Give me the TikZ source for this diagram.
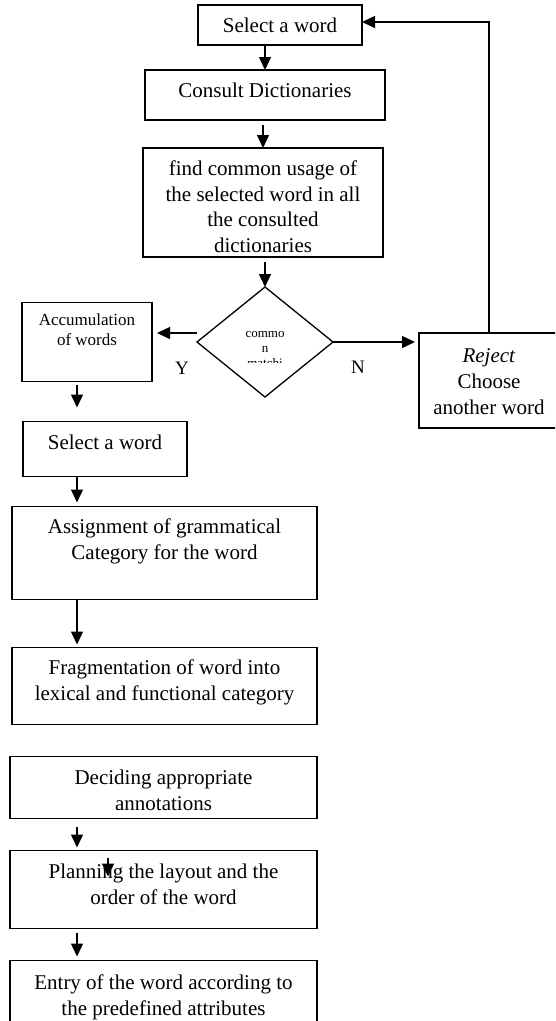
\documentclass[tikz,border=0pt]{standalone}
\usepackage{fontspec}
\setmainfont{Liberation Serif}
\usepackage{tikz}
\usetikzlibrary{shapes.geometric,arrows.meta,positioning,calc}

% text set from the top of a box of fixed size
\newcommand{\boxtext}[4][9.2pt]{\parbox[c][#3][t]{#2}{\centering\vspace*{#1}\strut #4}}

\begin{document}
\begin{tikzpicture}[
    x=1pt, y=-1pt,
    box/.style={rectangle, draw, line width=1.3pt, inner sep=0pt, outer sep=0pt, font=\fontsize{21}{25.8}\selectfont},
    smallbox/.style={box, font=\fontsize{17}{19.5}\selectfont},
    decision/.style={diamond, draw, line width=1.3pt, minimum width=136pt, minimum height=110pt, inner sep=0pt, outer sep=0pt},
    tiny/.style={align=center, inner sep=0pt, font=\fontsize{13}{15}\selectfont},
    lbl/.style={inner sep=0pt, font=\fontsize{19}{22}\selectfont},
    arrow/.style={-{Triangle[length=13pt,width=12pt]}, line width=1.3pt}
]

\useasboundingbox (0,0) rectangle (555,1021);
\clip (0,0) rectangle (555,1021);

% Lookup
\node[box] (sel1) at (280,25) {\boxtext{164pt}{40pt}{Select a word}};
\node[box, below=25pt of sel1, xshift=-15pt] (consult) {\boxtext{240pt}{50pt}{Consult Dictionaries}};
\node[box, below=28pt of consult, xshift=-2pt] (find) {\boxtext{240pt}{109pt}{find common usage of\\the selected word in all\\the consulted\\dictionaries}};

% Decision
\node[decision, below=30pt of find, xshift=2pt] (dia) {};
\begin{scope}
  \clip ([xshift=-40pt,yshift=40pt]dia.center) rectangle ([xshift=40pt,yshift=-20pt]dia.center);
  \node[tiny] (dtext) at ([yshift=-7pt]dia.center) {commo\\n\\matchi};
\end{scope}
\node[smallbox, left=45pt of dia] (acc) {\boxtext[9.7pt]{130pt}{79pt}{Accumulation\\of words}};
\node[box, right=86pt of dia, yshift=-38.5pt] (rej) {\boxtext[11.4pt]{140pt}{95pt}{\textit{Reject}\\Choose\\another word}};
\node[lbl] (ylab) at ([xshift=-15pt,yshift=-26pt]dia.west) {Y};
\node[lbl] (nlab) at ([xshift=25pt,yshift=-25pt]dia.east) {N};

% Annotation steps
\node[box, below=40pt of acc, xshift=18pt] (sel2) {\boxtext[10.2pt]{164pt}{55pt}{Select a word}};
\node[box, below=30pt of sel2, xshift=59.5pt] (assign) {\boxtext{305pt}{93pt}{Assignment of grammatical\\Category for the word}};
\node[box, below=48pt of assign] (frag) {\boxtext{305pt}{77pt}{Fragmentation of word into\\lexical and functional category}};
\node[box, below=32pt of frag, xshift=-1pt] (decide) {\boxtext[10.2pt]{307pt}{62pt}{Deciding appropriate\\annotations}};
\node[box, below=32pt of decide] (plan) {\boxtext[10.2pt]{307pt}{78pt}{Planning the layout and the\\order of the word}};
\node[box, below=32pt of plan] (entry) {\boxtext[11.2pt]{307pt}{80pt}{Entry of the word according to\\the predefined attributes}};

\coordinate (lane) at (77,0);
\coordinate (yarr) at ([yshift=9pt]dia.west);

% Arrows
\draw[arrow] (sel1.south -| consult.north) -- (consult.north);
\draw[arrow, shorten <=5pt] (consult.south -| find.north) -- (find.north);
\draw[arrow, shorten <=5pt] (find.south -| dia.north) -- (dia.north);
\draw[arrow, shorten >=5pt] (yarr) -- (yarr -| acc.east);
\draw[arrow, shorten >=4pt] (dia.east) -- (dia.east -| rej.west);
\draw[arrow] (rej.north) |- ([yshift=3pt]sel1.east);
\draw[arrow, shorten <=3pt, shorten >=14pt] (acc.south -| lane) -- (sel2.north -| lane);
\draw[arrow, shorten >=4pt] (sel2.south -| lane) -- (assign.north -| lane);
\draw[arrow, shorten >=3pt] (assign.south -| lane) -- (frag.north -| lane);
\draw[arrow, shorten <=8pt, shorten >=3pt] (decide.south -| lane) -- (plan.north -| lane);
\draw[arrow, shorten <=4pt, shorten >=4pt] (plan.south -| lane) -- (entry.north -| lane);
\draw[arrow] ([xshift=-55.5pt,yshift=-7pt]plan.north) -- ([xshift=-55.5pt,yshift=-26pt]plan.north);

\end{tikzpicture}
\end{document}
